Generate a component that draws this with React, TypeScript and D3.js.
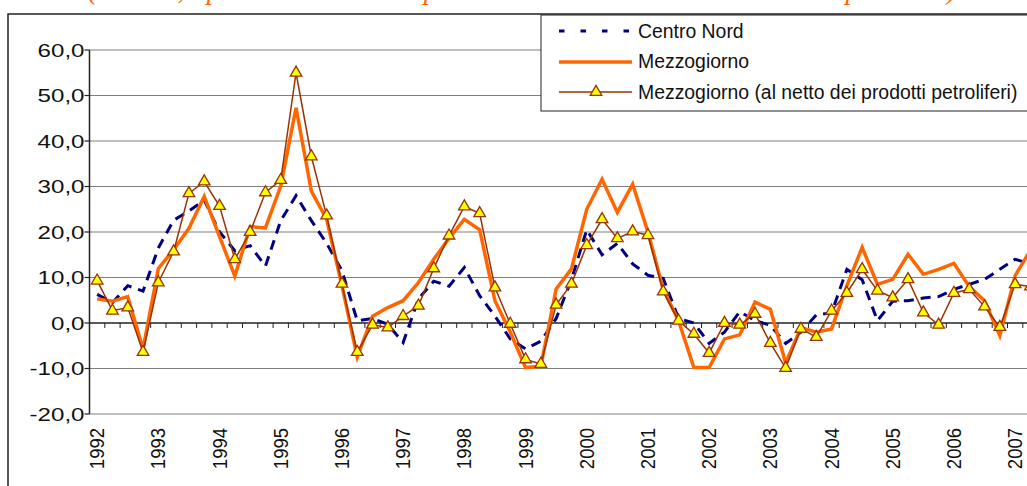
import React from 'react';
import * as d3 from 'd3';

// quarterly growth rates, 1992 I - 2007 II
const years = ['1992', '1993', '1994', '1995', '1996', '1997', '1998', '1999', '2000', '2001', '2002', '2003', '2004', '2005', '2006', '2007'];
const quarters = ['I', 'II', 'III', 'IV'];
const categories = years.flatMap(y => quarters.map(q => `${y} ${q}`)).slice(0, 62);

const centroNord = [
  6.3, 4.5, 8.2, 7.0, 16.5, 22.6, 24.6, 27.0, 20.0, 15.9,
  17.0, 12.5, 22.5, 28.0, 22.5, 17.5, 11.5, 0.5, 1.0, -0.3,
  -4.3, 5.3, 9.2, 8.1, 12.2, 6.0, 1.5, -3.5, -5.7, -4.0,
  1.0, 9.5, 20.5, 15.0, 17.5, 13.0, 10.5, 9.8, 1.0, 0.0,
  -4.5, -2.0, 2.5, 0.5, -0.5, -4.5, -2.0, 1.8, 2.2, 11.8,
  9.5, 0.5, 4.8, 4.9, 5.5, 5.8, 7.4, 8.5, 9.6, 11.8,
  14.0, 13.0,
];

const mezzogiorno = [
  5.3, 4.8, 5.8, -5.7, 12.0, 16.1, 20.8, 27.8, 19.0, 10.3,
  21.2, 20.9, 30.1, 47.3, 29.0, 22.8, 8.2, -7.5, 1.5, 3.4,
  4.9, 8.9, 14.0, 18.6, 22.8, 20.5, 4.9, -2.0, -9.8, -9.5,
  7.5, 11.9, 25.0, 31.6, 24.3, 30.5, 20.0, 7.4, 0.5, -9.8,
  -9.8, -3.5, -2.6, 4.6, 3.0, -8.8, -1.0, -2.0, -1.3, 8.2,
  16.6, 8.5, 9.6, 15.1, 10.7, 11.8, 13.1, 8.0, 4.9, -2.8,
  10.4, 16.0,
];

const mezzogiornoNetto = [
  9.3, 2.7, 3.4, -6.4, 8.9, 15.7, 28.5, 31.1, 25.7, 14.0,
  20.0, 28.7, 31.4, 55.0, 36.6, 23.6, 8.6, -6.4, -0.4, -1.0,
  1.5, 3.8, 12.0, 19.2, 25.6, 24.1, 7.8, -0.2, -8.0, -9.0,
  4.0, 8.6, 17.1, 22.8, 18.6, 20.1, 19.3, 6.9, 0.5, -2.4,
  -6.6, 0.0, -0.4, 2.0, -4.4, -9.9, -1.3, -3.1, 2.7, 6.6,
  11.8, 7.1, 5.6, 9.6, 2.3, -0.4, 6.6, 7.4, 3.6, -0.9,
  8.5, 8.0,
];

const yTicks = [-20, -10, 0, 10, 20, 30, 40, 50, 60];
const seriesNames = ['Centro Nord', 'Mezzogiorno', 'Mezzogiorno (al netto dei prodotti petroliferi)'];
const titleText = "(Valori %, esportazioni trimestrali a prezzi correnti sullo stesso trimestre dell'anno precedente)";

const W = 1027;
const H = 486;
const left = 89.5;
const band = 15.3;
const top = 50;
const bottom = 414;

const fmt = d3.formatLocale({ decimal: ',', thousands: '.', grouping: [3], currency: ['', ''], minus: '-' }).format('.1f');

export default function App() {
  const x = d3.scaleBand().domain(categories).range([left, left + band * categories.length]);
  const y = d3.scaleLinear().domain([-20, 60]).range([bottom, top]);
  const cx = (i: number) => (x(categories[i]) as number) + x.bandwidth() / 2;
  const line = d3.line<number>().x((d, i) => cx(i)).y(d => y(d));
  const right = left + band * categories.length;
  const tri = d3.symbol().type(d3.symbolTriangle).size(58)();
  const font = '"Liberation Sans", Arial, sans-serif';

  return (
    <div>
      <style>{`body{margin:0}`}</style>
      <svg width={W} height={H} style={{ display: 'block', fontFamily: font }}>
        <rect width={W} height={H} fill="#fff" />

        {/* title, mostly cut off at the top edge as in the source */}
        <text x={88} y={-1} textLength={868} lengthAdjust="spacing" fill="#FF6600"
          fontFamily='"Liberation Serif", "Times New Roman", serif' fontStyle="italic" fontSize={28}>
          {titleText}
        </text>

        {/* chart frame */}
        <path d={`M8,${H + 2}V14H${W + 2}`} fill="none" stroke="#222" strokeWidth={1.5} />

        {/* gridlines */}
        {yTicks.filter(t => t !== 0).map(t => (
          <line key={t} x1={left} x2={right} y1={y(t)} y2={y(t)} stroke="#7f7f7f" strokeWidth={1.2} />
        ))}

        {/* y axis */}
        <line x1={left} x2={left} y1={top} y2={bottom} stroke="#222" strokeWidth={1.5} />
        {yTicks.map(t => (
          <g key={t}>
            <line x1={left - 5} x2={left} y1={y(t)} y2={y(t)} stroke="#222" strokeWidth={1.2} />
            <text transform={`translate(${left - 5},${y(t)}) scale(1.27,1)`} textAnchor="end" dy="0.35em" fontSize={19} fill="#111">
              {fmt(t)}
            </text>
          </g>
        ))}

        {/* x axis at zero */}
        <line x1={left} x2={right} y1={y(0)} y2={y(0)} stroke="#222" strokeWidth={1.5} />
        {categories.map(c => (
          <line key={c} x1={x(c) as number} x2={x(c) as number} y1={y(0)} y2={y(0) + 5} stroke="#222" strokeWidth={1} />
        ))}
        {categories.map((c, i) => i % 4 === 0 ? (
          <text key={c} transform={`translate(${cx(i)},428) rotate(-90) scale(1,1.1)`} textAnchor="end" dy="0.35em" fontSize={18.5} fill="#111">
            {years[i / 4]}
          </text>
        ) : null)}

        {/* series */}
        <path d={line(centroNord) || ''} fill="none" stroke="#000080" strokeWidth={3} strokeDasharray="10 7" />
        <path d={line(mezzogiorno) || ''} fill="none" stroke="#FF6600" strokeWidth={3.5} />
        <path d={line(mezzogiornoNetto) || ''} fill="none" stroke="#993300" strokeWidth={1.5} />
        {mezzogiornoNetto.map((v, i) => (
          <path key={i} d={tri || ''} transform={`translate(${cx(i)},${y(v)})`} fill="#FFFF00" stroke="#993300" strokeWidth={1.3} />
        ))}

        {/* legend */}
        <rect x={541} y={15} width={500} height={96} fill="#fff" stroke="#222" strokeWidth={1} />
        <line x1={559} x2={632} y1={31} y2={31} stroke="#000080" strokeWidth={3} strokeDasharray="5.5 16" />
        <line x1={559} x2={632} y1={62} y2={62} stroke="#FF6600" strokeWidth={3.5} />
        <line x1={559} x2={632} y1={92} y2={92} stroke="#993300" strokeWidth={1.5} />
        <path d={tri || ''} transform="translate(596,92)" fill="#FFFF00" stroke="#993300" strokeWidth={1.3} />
        {seriesNames.map((n, i) => (
          <text key={n} x={638} y={31 + i * 30.5} dy="0.35em" fontSize={19.4} fill="#111">{n}</text>
        ))}
      </svg>
    </div>
  );
}
